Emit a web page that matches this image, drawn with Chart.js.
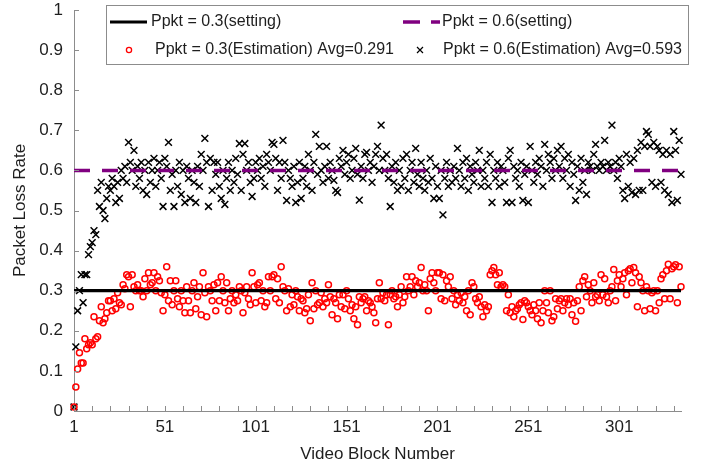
<!DOCTYPE html>
<html>
<head>
<meta charset="utf-8">
<script src="https://cdn.jsdelivr.net/npm/chart.js@4.4.1/dist/chart.umd.min.js"></script>
<style>
  html, body { margin: 0; padding: 0; background: #fff; }
  #grafico { display: block; }
</style>
</head>
<body>
<canvas id="grafico" width="707" height="466"></canvas>
<script>
const blockTicks = [1, 51, 101, 151, 201, 251, 301];
const lossTicks = [0, 0.1, 0.2, 0.3, 0.4, 0.5, 0.6, 0.7, 0.8, 0.9, 1];
const settingLow = 0.3;
const settingHigh = 0.6;
const avgLow = "0.291";
const avgHigh = "0.593";

// estimated loss rate, Ppkt = 0.3 (red circles)
const lossEst03 = [
  0.01, 0.06, 0.105, 0.145, 0.12, 0.12, 0.18, 0.155, 0.165, 0.17, 0.165, 0.235, 0.18, 0.185, 0.225, 0.26, 0.22, 0.23, 0.245, 0.275,
  0.275, 0.25, 0.28, 0.255, 0.295, 0.27, 0.265, 0.315, 0.305, 0.34, 0.335, 0.26, 0.34, 0.31, 0.30, 0.315, 0.30, 0.30, 0.285, 0.33,
  0.30, 0.345, 0.315, 0.32, 0.345, 0.30, 0.335, 0.325, 0.295, 0.25, 0.29, 0.36, 0.275, 0.325, 0.265, 0.30, 0.325, 0.28, 0.26, 0.30,
  0.275, 0.245, 0.31, 0.275, 0.245, 0.30, 0.32, 0.255, 0.285, 0.31, 0.24, 0.345, 0.295, 0.235, 0.31, 0.30, 0.275, 0.315, 0.25, 0.32,
  0.275, 0.335, 0.30, 0.27, 0.32, 0.25, 0.28, 0.30, 0.27, 0.29, 0.275, 0.31, 0.30, 0.245, 0.295, 0.31, 0.28, 0.265, 0.345, 0.31,
  0.27, 0.315, 0.32, 0.275, 0.30, 0.26, 0.27, 0.335, 0.30, 0.335, 0.34, 0.28, 0.33, 0.27, 0.36, 0.31, 0.30, 0.25, 0.305, 0.26,
  0.29, 0.265, 0.30, 0.285, 0.25, 0.28, 0.275, 0.245, 0.255, 0.29, 0.225, 0.32, 0.255, 0.30, 0.265, 0.27, 0.295, 0.26, 0.28, 0.27,
  0.315, 0.285, 0.24, 0.28, 0.27, 0.23, 0.29, 0.26, 0.29, 0.255, 0.30, 0.28, 0.25, 0.265, 0.23, 0.26, 0.215, 0.285, 0.27, 0.28,
  0.285, 0.25, 0.275, 0.27, 0.26, 0.245, 0.22, 0.28, 0.32, 0.28, 0.295, 0.275, 0.29, 0.215, 0.29, 0.30, 0.28, 0.285, 0.26, 0.29,
  0.31, 0.27, 0.285, 0.335, 0.30, 0.31, 0.335, 0.29, 0.325, 0.31, 0.32, 0.358, 0.30, 0.315, 0.30, 0.25, 0.33, 0.345, 0.32, 0.30,
  0.345, 0.345, 0.28, 0.34, 0.275, 0.325, 0.31, 0.335, 0.28, 0.30, 0.265, 0.29, 0.275, 0.295, 0.27, 0.285, 0.25, 0.30, 0.24, 0.32,
  0.31, 0.28, 0.27, 0.285, 0.26, 0.235, 0.265, 0.25, 0.26, 0.34, 0.35, 0.358, 0.34, 0.315, 0.345, 0.31, 0.315, 0.31, 0.25, 0.29,
  0.245, 0.26, 0.235, 0.25, 0.255, 0.265, 0.27, 0.228, 0.275, 0.27, 0.26, 0.25, 0.24, 0.265, 0.25, 0.23, 0.27, 0.22, 0.25, 0.30,
  0.27, 0.245, 0.30, 0.225, 0.235, 0.28, 0.255, 0.275, 0.28, 0.25, 0.27, 0.28, 0.265, 0.28, 0.24, 0.27, 0.224, 0.275, 0.31, 0.25,
  0.325, 0.335, 0.285, 0.315, 0.30, 0.27, 0.32, 0.285, 0.29, 0.275, 0.34, 0.29, 0.33, 0.285, 0.27, 0.30, 0.31, 0.353, 0.275, 0.325,
  0.34, 0.31, 0.33, 0.345, 0.29, 0.35, 0.355, 0.32, 0.358, 0.345, 0.26, 0.335, 0.32, 0.30, 0.25, 0.31, 0.30, 0.255, 0.295, 0.30,
  0.25, 0.30, 0.27, 0.33, 0.34, 0.28, 0.35, 0.366, 0.28, 0.355, 0.36, 0.365, 0.27, 0.36, 0.31
];

// estimated loss rate, Ppkt = 0.6 (black crosses)
const lossEst06 = [
  0.01, 0.16, 0.25, 0.30, 0.34, 0.27, 0.34, 0.34, 0.39, 0.41, 0.42, 0.45, 0.44, 0.55, 0.51, 0.57, 0.50, 0.48, 0.53, 0.56,
  0.55, 0.58, 0.56, 0.52, 0.57, 0.53, 0.60, 0.58, 0.61, 0.57, 0.67, 0.62, 0.60, 0.65, 0.56, 0.61, 0.58, 0.62, 0.55, 0.60,
  0.54, 0.62, 0.57, 0.60, 0.63, 0.56, 0.60, 0.62, 0.58, 0.51, 0.63, 0.61, 0.67, 0.55, 0.59, 0.51, 0.60, 0.56, 0.62, 0.54,
  0.60, 0.52, 0.61, 0.58, 0.53, 0.60, 0.57, 0.52, 0.61, 0.56, 0.64, 0.60, 0.68, 0.62, 0.51, 0.63, 0.55, 0.62, 0.59, 0.62,
  0.56, 0.53, 0.60, 0.515, 0.58, 0.62, 0.55, 0.60, 0.57, 0.63, 0.59, 0.667, 0.55, 0.64, 0.667, 0.60, 0.62, 0.57, 0.535, 0.58,
  0.62, 0.60, 0.63, 0.58, 0.61, 0.56, 0.64, 0.62, 0.60, 0.67, 0.665, 0.63, 0.55, 0.62, 0.58, 0.675, 0.62, 0.525, 0.60, 0.58,
  0.56, 0.61, 0.52, 0.57, 0.62, 0.53, 0.58, 0.61, 0.56, 0.64, 0.60, 0.55, 0.62, 0.69, 0.59, 0.66, 0.60, 0.57, 0.61, 0.66,
  0.58, 0.62, 0.60, 0.575, 0.55, 0.545, 0.63, 0.61, 0.65, 0.59, 0.62, 0.64, 0.58, 0.60, 0.63, 0.655, 0.59, 0.526, 0.61, 0.58,
  0.64, 0.645, 0.60, 0.62, 0.57, 0.61, 0.64, 0.66, 0.60, 0.713, 0.63, 0.60, 0.64, 0.58, 0.51, 0.61, 0.57, 0.62, 0.55, 0.60,
  0.56, 0.63, 0.58, 0.64, 0.55, 0.60, 0.62, 0.57, 0.655, 0.59, 0.56, 0.62, 0.58, 0.55, 0.60, 0.57, 0.63, 0.58, 0.53, 0.61,
  0.56, 0.53, 0.60, 0.489, 0.58, 0.62, 0.56, 0.60, 0.57, 0.61, 0.58, 0.655, 0.60, 0.56, 0.62, 0.58, 0.63, 0.55, 0.61, 0.59,
  0.57, 0.62, 0.60, 0.65, 0.56, 0.60, 0.58, 0.62, 0.56, 0.64, 0.52, 0.60, 0.58, 0.62, 0.56, 0.61, 0.60, 0.57, 0.52, 0.63,
  0.65, 0.52, 0.61, 0.58, 0.60, 0.56, 0.62, 0.525, 0.59, 0.61, 0.52, 0.66, 0.60, 0.57, 0.62, 0.59, 0.63, 0.61, 0.56, 0.665,
  0.60, 0.64, 0.62, 0.58, 0.63, 0.60, 0.65, 0.61, 0.66, 0.58, 0.63, 0.60, 0.64, 0.56, 0.62, 0.59, 0.525, 0.61, 0.55, 0.63,
  0.57, 0.60, 0.54, 0.62, 0.61, 0.60, 0.64, 0.665, 0.61, 0.60, 0.62, 0.61, 0.675, 0.60, 0.62, 0.61, 0.713, 0.60, 0.62, 0.58,
  0.63, 0.61, 0.55, 0.53, 0.64, 0.56, 0.62, 0.545, 0.63, 0.54, 0.65, 0.55, 0.67, 0.55, 0.66, 0.697, 0.69, 0.66, 0.57, 0.67,
  0.56, 0.66, 0.65, 0.57, 0.64, 0.55, 0.65, 0.54, 0.64, 0.52, 0.697, 0.65, 0.525, 0.675, 0.59
];

const lastBlock = lossEst03.length;
const fonte = "'Liberation Sans', Arial, sans-serif";
const corEixo = "#8c8c8c";
const corTexto = "#1e1e1e";

function pontos(valores) {
  return valores.map((v, i) => ({ x: i + 1, y: v }));
}

// inward tick marks + boxed 2x2 legend, drawn like the original figure
const extrasPlugin = {
  id: "extras",
  afterDraw(chart) {
    const { ctx, scales: { x, y } } = chart;
    ctx.save();
    ctx.strokeStyle = corEixo;
    ctx.lineWidth = 1;
    ctx.beginPath();
    for (let b = 1; b <= lastBlock; b += 10) {
      const px = Math.round(x.getPixelForValue(b)) + 0.5;
      ctx.moveTo(px, y.bottom);
      ctx.lineTo(px, y.bottom - 5);
    }
    lossTicks.forEach((v) => {
      const py = Math.round(y.getPixelForValue(v)) + 0.5;
      ctx.moveTo(x.left, py);
      ctx.lineTo(x.left + 5, py);
    });
    ctx.stroke();

    // legend box
    ctx.fillStyle = "#fff";
    ctx.fillRect(106, 5, 582, 59);
    ctx.strokeStyle = "#8c8c8c";
    ctx.strokeRect(106.5, 5.5, 582, 59);

    ctx.font = "16px " + fonte;
    ctx.fillStyle = corTexto;
    ctx.textBaseline = "middle";
    ctx.textAlign = "left";

    ctx.strokeStyle = "#000";
    ctx.lineWidth = 3;
    ctx.beginPath();
    ctx.moveTo(110, 22);
    ctx.lineTo(147, 22);
    ctx.stroke();
    ctx.fillText(`Ppkt = ${settingLow}(setting)`, 151, 22);

    ctx.strokeStyle = "#800080";
    ctx.lineWidth = 3.5;
    ctx.setLineDash([17, 11]);
    ctx.beginPath();
    ctx.moveTo(403, 22);
    ctx.lineTo(440, 22);
    ctx.stroke();
    ctx.setLineDash([]);
    ctx.fillText(`Ppkt = ${settingHigh}(setting)`, 442, 22);

    ctx.strokeStyle = "#ff0000";
    ctx.lineWidth = 1.3;
    ctx.beginPath();
    ctx.arc(129, 50, 2.6, 0, Math.PI * 2);
    ctx.stroke();
    ctx.fillText(`Ppkt = ${settingLow}(Estimation) Avg=${avgLow}`, 155, 50);

    ctx.strokeStyle = "#000";
    ctx.lineWidth = 1.2;
    ctx.beginPath();
    ctx.moveTo(417, 47); ctx.lineTo(423, 53);
    ctx.moveTo(423, 47); ctx.lineTo(417, 53);
    ctx.stroke();
    ctx.fillText(`Ppkt = ${settingHigh}(Estimation) Avg=${avgHigh}`, 443, 50);
    ctx.restore();
  }
};

new Chart(document.getElementById("grafico"), {
  type: "scatter",
  data: {
    datasets: [
      {
        label: "Ppkt = 0.3(setting)",
        data: [{ x: 1, y: settingLow }, { x: lastBlock, y: settingLow }],
        showLine: true,
        borderColor: "#000",
        borderWidth: 3.3,
        pointRadius: 0
      },
      {
        label: "Ppkt = 0.6(setting)",
        data: [{ x: 1, y: settingHigh }, { x: lastBlock, y: settingHigh }],
        showLine: true,
        borderColor: "#800080",
        borderWidth: 3.5,
        borderDash: [16, 12],
        pointRadius: 0
      },
      {
        label: "Ppkt = 0.3(Estimation)",
        data: pontos(lossEst03),
        pointStyle: "circle",
        pointRadius: 3,
        borderWidth: 1.5,
        borderColor: "#ff0000",
        backgroundColor: "rgba(0,0,0,0)",
        clip: false
      },
      {
        label: "Ppkt = 0.6(Estimation)",
        data: pontos(lossEst06),
        pointStyle: "crossRot",
        pointRadius: 4.8,
        borderWidth: 1.5,
        borderColor: "#000",
        clip: false
      }
    ]
  },
  options: {
    responsive: false,
    animation: false,
    devicePixelRatio: 1,
    layout: { padding: { left: 0, right: 26, top: 10, bottom: 0 } },
    plugins: { legend: { display: false }, tooltip: { enabled: false } },
    scales: {
      x: {
        type: "linear",
        min: 1,
        max: lastBlock,
        afterBuildTicks: (s) => { s.ticks = blockTicks.map((v) => ({ value: v })); },
        afterFit: (s) => { s.height = 55; s.paddingLeft = 0; s.paddingRight = 0; },
        grid: { drawOnChartArea: false, drawTicks: false },
        border: { color: corEixo, width: 1 },
        ticks: { color: corTexto, font: { family: fonte, size: 17 }, padding: 6, maxRotation: 0, autoSkip: false },
        title: { display: true, text: "Video Block Number", color: corTexto, font: { family: fonte, size: 17 }, padding: { top: 0, bottom: 1 } }
      },
      y: {
        min: 0,
        max: 1,
        afterBuildTicks: (s) => { s.ticks = lossTicks.map((v) => ({ value: v })); },
        afterFit: (s) => { s.width = 74; s.paddingTop = 0; s.paddingBottom = 0; },
        grid: { drawOnChartArea: false, drawTicks: false },
        border: { color: corEixo, width: 1 },
        ticks: { color: corTexto, font: { family: fonte, size: 17 }, padding: 11, callback: (v) => String(v) },
        title: { display: true, text: "Packet Loss Rate", color: corTexto, font: { family: fonte, size: 17 }, padding: { top: 10, bottom: 0 } }
      }
    }
  },
  plugins: [extrasPlugin]
});
</script>
</body>
</html>
